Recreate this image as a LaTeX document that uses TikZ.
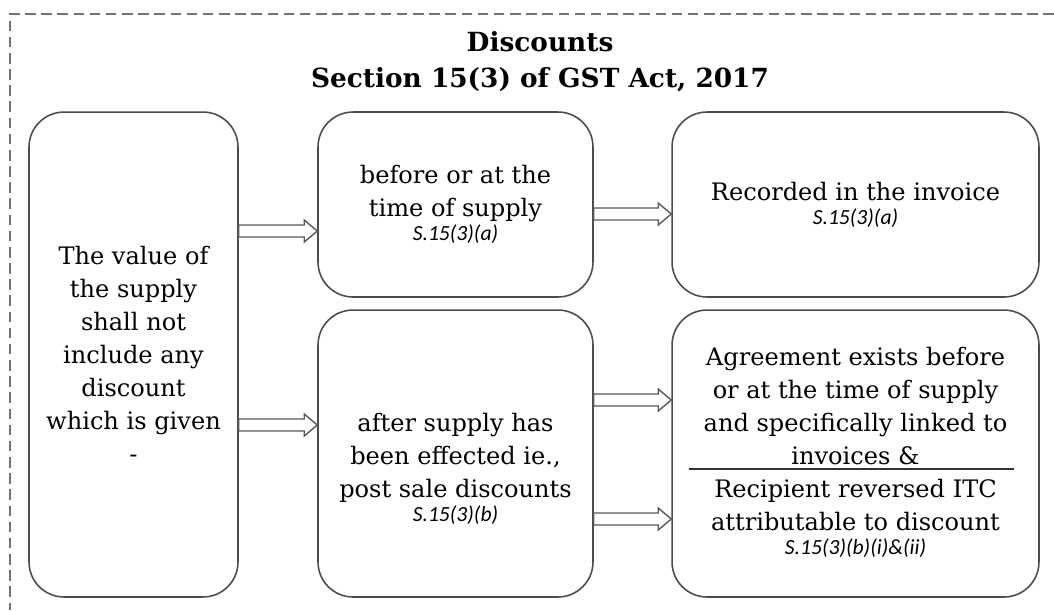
\documentclass[tikz,border=0pt]{standalone}
\usepackage{fontspec}
\setmainfont{DejaVu Serif}
\newfontfamily\reffont{Carlito}
\usetikzlibrary{calc,positioning}

\newcommand{\sref}[1]{{\fontsize{12.3}{15}\selectfont\reffont\itshape #1}}
\newcommand{\blockarrow}[3]{%
  \path (#1.east |- 0,#3) coordinate (bs) (#2.west |- 0,#3) coordinate (be);
  \draw[blockarr] ($(bs)+(0,-6)$) -- ($(be)+(-13,-6)$) -- ($(be)+(-13,-11)$) -- (be)
    -- ($(be)+(-13,11)$) -- ($(be)+(-13,6)$) -- ($(bs)+(0,6)$) -- cycle;}

\begin{document}
\begin{tikzpicture}[x=0.02cm,y=-0.02cm,
  box/.style={draw=black!70,line width=0.9pt,rounded corners=0.7cm,inner sep=0pt,
    align=center,font=\fontsize{13.7}{18.8}\selectfont,text=black},
  body/.style={align=center,inner sep=0pt,font=\fontsize{13.7}{18.8}\selectfont,text=black},
  blockarr/.style={draw=black!65,line width=0.8pt,fill=white},
  frame/.style={draw=black!55,line width=0.8pt,dash pattern=on 6pt off 3.2pt}]
  \useasboundingbox (0,0) rectangle (1054,610);
  \draw[frame] (1054,14) -- (10,14) -- (10,610);

  % title
  \node[align=center,font=\fontsize{15}{20.5}\selectfont\bfseries] (title) at (540,62)
    {Discounts\\Section 15(3) of GST Act, 2017};

  % boxes
  \node[box,minimum width=4.18cm,minimum height=9.7cm] (value) at (133.5,354.5)
    {The value of\\the supply\\shall not\\include any\\discount\\which is given\\-};
  \node[box,minimum width=5.5cm,minimum height=3.7cm] (before) at (455.5,204.5)
    {before or at the\\time of supply\\[-5pt]\sref{S.15(3)(a)}};
  \node[box,minimum width=7.34cm,minimum height=3.7cm] (invoice) at (855.5,204.5)
    {Recorded in the invoice\\[-5pt]\sref{S.15(3)(a)}};
  \node[box,minimum width=5.5cm,minimum height=5.74cm] (after) at (455.5,453.5) {};
  \node[box,minimum width=7.34cm,minimum height=5.74cm] (cond) at (855.5,453.5) {};

  \node[body] (aftertxt) at ($(after.center)+(0,15)$)
    {after supply has\\been effected ie.,\\post sale discounts\\[-5pt]\sref{S.15(3)(b)}};
  \node[body,anchor=south] (agree) at (855.5,465)
    {Agreement exists before\\or at the time of supply\\and specifically linked to\\invoices \&};
  \node[body,anchor=north] (recip) at (855.5,479)
    {Recipient reversed ITC\\attributable to discount\\[-5pt]\sref{S.15(3)(b)(i)\&(ii)}};
  \draw[black!80,line width=0.6pt] ($(cond.west |- 0,469)+(18,0)$) -- ($(cond.east |- 0,469)+(-26,0)$);

  % arrows
  \blockarrow{value}{before}{231}
  \blockarrow{value}{after}{425}
  \blockarrow{before}{invoice}{214}
  \blockarrow{after}{cond}{400}
  \blockarrow{after}{cond}{519}
\end{tikzpicture}
\end{document}
